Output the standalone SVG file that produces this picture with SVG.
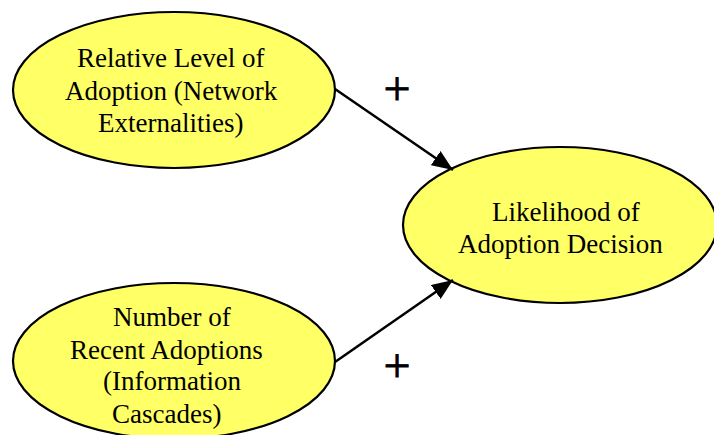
<svg xmlns="http://www.w3.org/2000/svg" width="714" height="435" viewBox="0 0 714 435">
<style>
.node{fill:#FFFF66;stroke:#000;stroke-width:2.2}
.t{font-size:27px;fill:#000}
.plus{font-size:48px;fill:#000;stroke:#000;stroke-width:0.8;text-anchor:middle}
.edge{stroke:#000;stroke-width:2.5;fill:none;marker-end:url(#arr)}
</style>
<defs>
<marker id="arr" viewBox="0 0 10 10" refX="10" refY="5" markerWidth="21" markerHeight="17" markerUnits="userSpaceOnUse" orient="auto" preserveAspectRatio="none">
<path d="M0,0 L10,5 L0,10 z" fill="#000"/>
</marker>
</defs>
<rect width="714" height="435" fill="#fff"/>
<g font-family="'Liberation Serif', 'Times New Roman', Times, serif">
<g id="n1">
<ellipse class="node" cx="174" cy="90" rx="161" ry="78"/>
<text class="t" x="77" y="67">Relative Level of</text>
<text class="t" x="65" y="100">Adoption (Network</text>
<text class="t" x="98" y="132">Externalities)</text>
</g>
<g id="n2">
<ellipse class="node" cx="560" cy="225" rx="157" ry="78"/>
<text class="t" x="492" y="221">Likelihood of</text>
<text class="t" x="458" y="253">Adoption Decision</text>
</g>
<g id="n3">
<ellipse class="node" cx="174" cy="361" rx="161" ry="78"/>
<text class="t" x="113" y="326">Number of</text>
<text class="t" x="70" y="359">Recent Adoptions</text>
<text class="t" x="103" y="390">(Information</text>
<text class="t" x="112" y="423">Cascades)</text>
</g>
<g id="edges">
<line class="edge" x1="335" y1="89" x2="453" y2="170"/>
<line class="edge" x1="335" y1="362" x2="453" y2="280"/>
<text class="plus" x="397" y="105">+</text>
<text class="plus" x="397" y="382">+</text>
</g>
</g>
</svg>
